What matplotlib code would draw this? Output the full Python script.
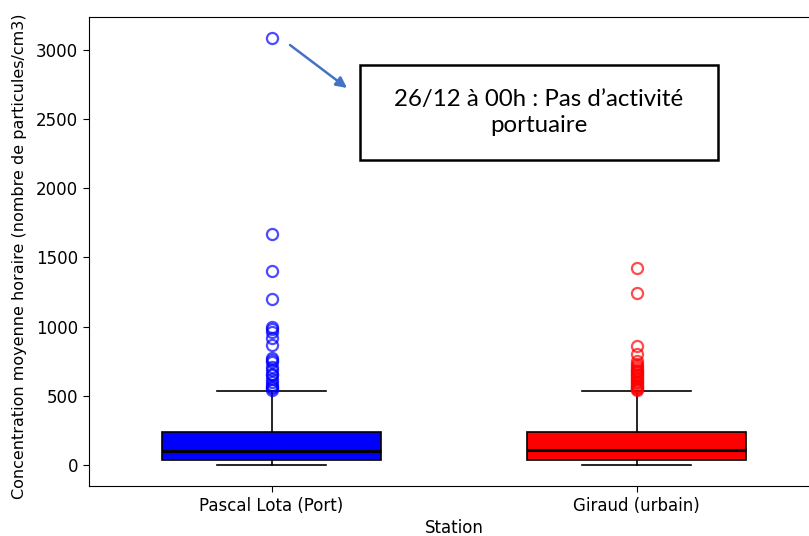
import numpy as np
import matplotlib.pyplot as plt
from matplotlib.patches import Rectangle

# --------------------
# donnees
# --------------------
stations = ["Pascal Lota (Port)", "Giraud (urbain)"]
couleurs = ["blue", "red"]

q1 = [39, 39]
mediane = [101, 106]
q3 = [239, 239]
moust_bas = [3, 3]
moust_haut = [533, 535]

outliers_port = [3085, 1668, 1401, 1199, 998, 985, 960, 916, 865, 772, 760,
                 745, 706, 690, 660, 649, 620, 598, 580, 565, 555, 545]
outliers_urbain = [1422, 1241, 862, 805, 750, 730, 715, 700, 690, 680, 670,
                   660, 650, 640, 630, 620, 610, 600, 590, 580, 570, 562,
                   555, 548, 541]

texte_note = "26/12 à 00h : Pas d\u2019activité\nportuaire"

stats = []
for i, nom in enumerate(stations):
    stats.append({
        "label": nom,
        "q1": q1[i], "med": mediane[i], "q3": q3[i],
        "whislo": moust_bas[i], "whishi": moust_haut[i],
        "fliers": np.array([outliers_port, outliers_urbain][i]),
    })

plt.rcParams["font.size"] = 12
plt.rcParams["xtick.major.size"] = 4.5
plt.rcParams["ytick.major.size"] = 4.5

# --------------------
# figure
# --------------------
W, H = 809, 536
fig = plt.figure(figsize=(W / 100, H / 100), dpi=100)
ax = fig.add_axes([89 / W, (H - 486) / H, 730 / W, 469.5 / H])

bp = ax.bxp(stats, positions=[1, 2], widths=0.6, patch_artist=True,
            medianprops=dict(color="black", linewidth=2.2),
            whiskerprops=dict(color="black", linewidth=1.2),
            capprops=dict(color="black", linewidth=1.2),
            boxprops=dict(edgecolor="black", linewidth=1.2))

for i, box in enumerate(bp["boxes"]):
    box.set_facecolor(couleurs[i])
for i, fl in enumerate(bp["fliers"]):
    fl.set(marker="o", markerfacecolor="none", markeredgecolor=couleurs[i],
           markersize=8, markeredgewidth=1.6, alpha=0.7)

ax.set_xlim(0.5, 2.5)
ax.set_xlabel("Station")
ax.set_ylabel("Concentration moyenne horaire (nombre de particules/cm3)", fontsize=11.5)
ax.yaxis.set_label_coords(-0.085, 0.49)
ax.xaxis.set_label_coords(0.5, -0.07)

# --------------------
# annotation (encadre + fleche)
# --------------------
def px(x, y):
    return (x / W, 1 - y / H)

x0, y0 = px(360, 160)
x1, y1 = px(718, 65)
fig.patches.append(Rectangle((x0, y0), x1 - x0, y1 - y0, transform=fig.transFigure,
                             facecolor="white", edgecolor="black", linewidth=1.8))
fig.text((x0 + x1) / 2, (y0 + y1) / 2, texte_note, ha="center", va="center",
         fontsize=17.3, family="Lato", linespacing=1.3)

ax.annotate("", xy=px(347, 88), xycoords="figure fraction",
            xytext=px(290, 45), textcoords="figure fraction",
            arrowprops=dict(arrowstyle="-|>", color="#4472C4", lw=1.8,
                            mutation_scale=16, shrinkA=0, shrinkB=0))

plt.savefig("out.png", dpi=100)
